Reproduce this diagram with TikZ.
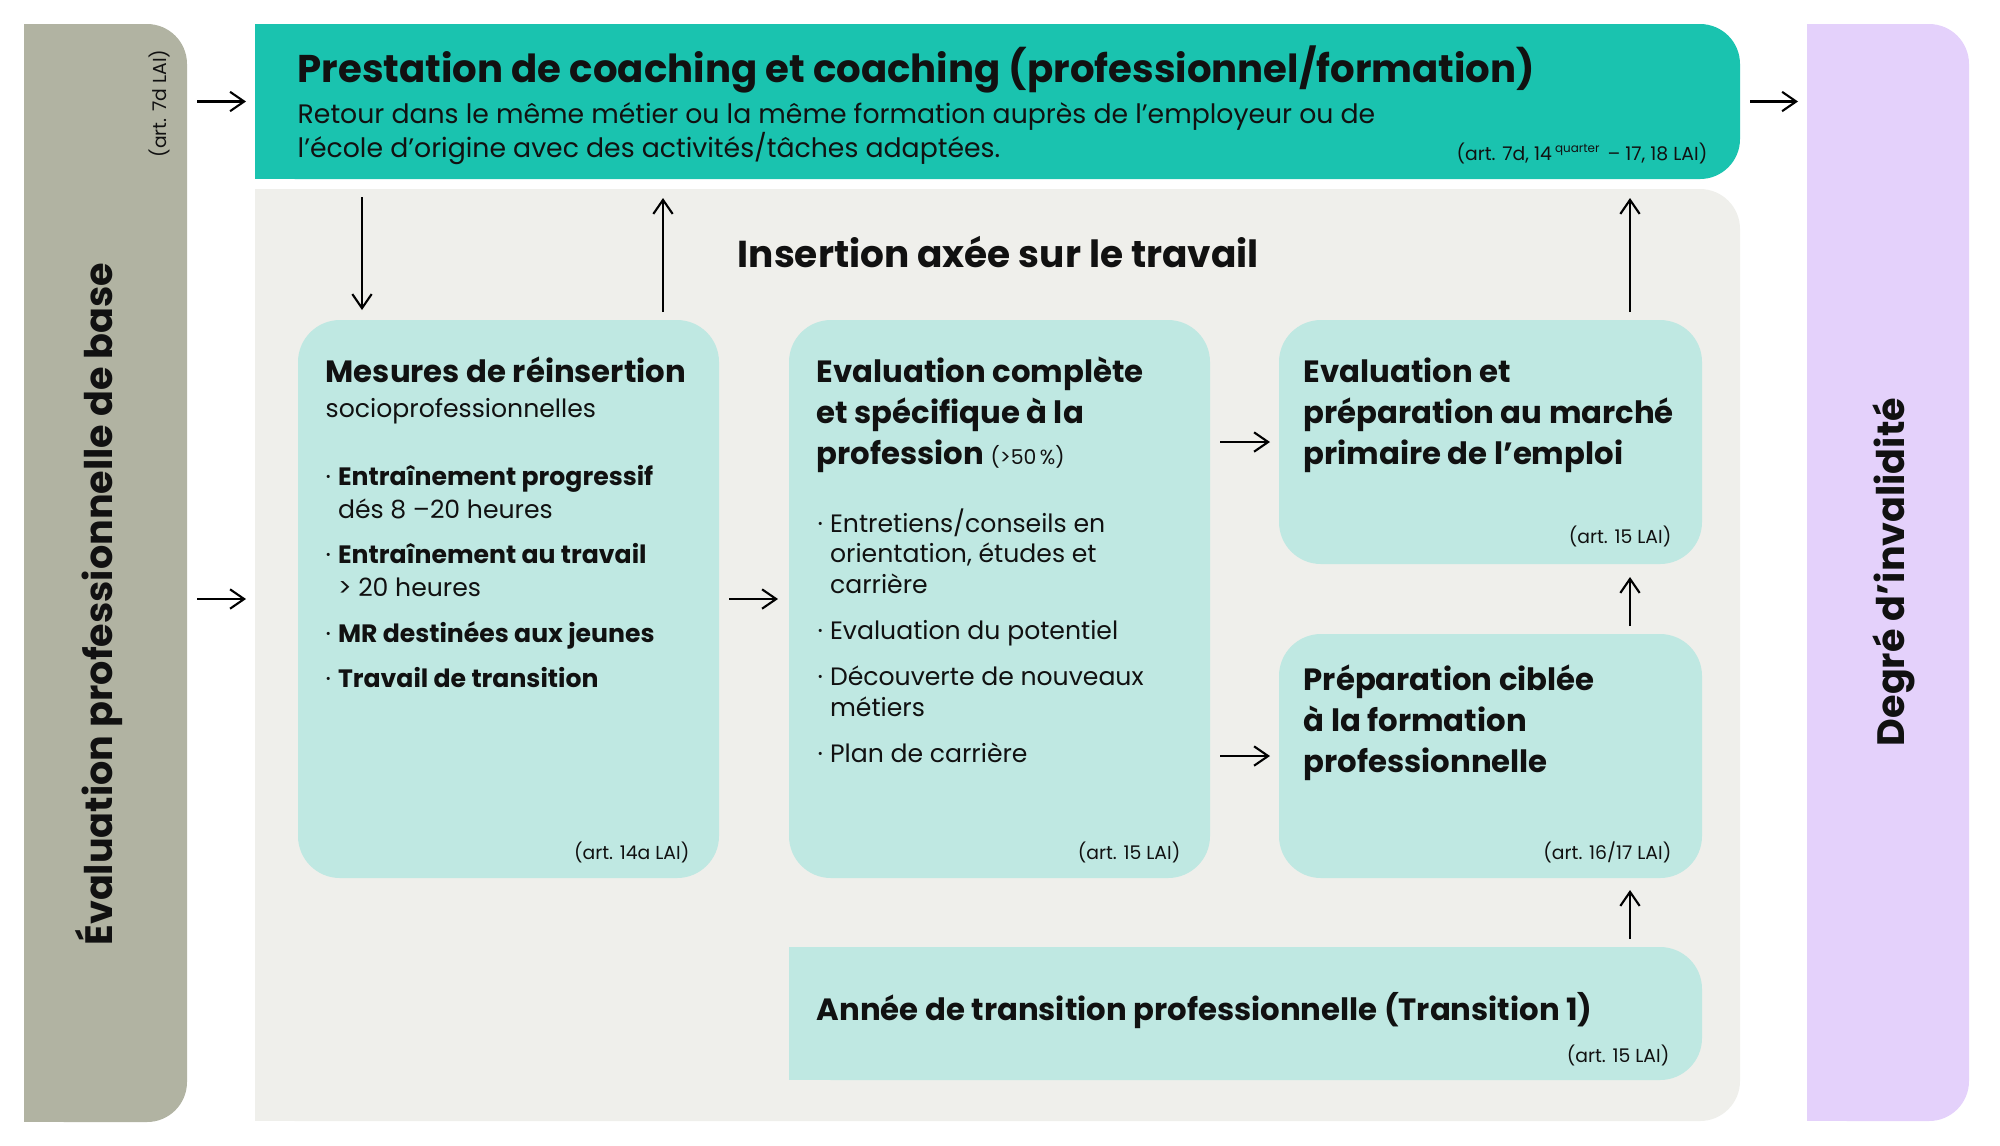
\documentclass[tikz,border=0pt]{standalone}
\usepackage{fontspec}
\setmainfont{Poppins}
\usepackage{xcolor}
\usetikzlibrary{arrows.meta, positioning, calc}

\definecolor{barGrey}{HTML}{B1B3A2}
\definecolor{coachTeal}{HTML}{1AC3AF}
\definecolor{bgGrey}{HTML}{EFEFEB}
\definecolor{boxTeal}{HTML}{BFE8E2}
\definecolor{barLilac}{HTML}{E4D1FB}
\definecolor{inkBlack}{HTML}{111111}

\newcommand{\fsz}[2]{\fontsize{#1}{#2}\selectfont}
\newcommand{\stacklines}[1]{\begin{tabular}[t]{@{}l@{}}#1\end{tabular}}
\newcommand{\bulletlines}[1]{\begin{tabular}[t]{@{}l@{\hspace{2pt}}l@{}}#1\end{tabular}}

\begin{document}
\begin{tikzpicture}[
  node distance=0.7cm and 0.7cm,
  panel/.style={rectangle, fill=#1, inner sep=0pt, outer sep=0pt, rounded corners=0.4cm},
  box/.style={rectangle, fill=boxTeal, inner sep=0pt, outer sep=0pt, rounded corners=0.42cm,
              minimum width=4.21cm},
  txt/.style={inner sep=0pt, anchor=base west, text=inkBlack},
  boxtitle/.style={txt, font=\fsz{8.75}{11.7}\bfseries},
  art/.style={inner sep=0pt, anchor=base east, text=inkBlack, font=\fsz{5.35}{7}},
  side/.style={inner sep=0pt, rotate=90, text=inkBlack, font=\fsz{10.85}{13}\bfseries},
  arrow/.style={-{Straight Barb[length=4pt, width=5.5pt]}, line width=0.6pt,
                shorten <=0.1cm, shorten >=0.09cm},
]
  \useasboundingbox (0,0) rectangle (20,-11.45);

  % outer columns and panels
  \node[panel=barGrey, minimum width=1.63cm, minimum height=10.98cm, anchor=north west] (lbar) at (0.24,-0.24) {};
  \node[panel=coachTeal, minimum width=14.85cm, minimum height=1.55cm, anchor=north west] (coach) at (2.55,-0.24) {};
  \node[panel=bgGrey, minimum width=14.85cm, minimum height=9.32cm, below=0.1cm of coach] (insert) {};
  \node[panel=barLilac, minimum width=1.62cm, minimum height=10.97cm, anchor=north west] (rbar) at (18.07,-0.24) {};
  \fill[barGrey] (lbar.north west) rectangle (lbar.south);
  \fill[coachTeal] (coach.north west) rectangle (coach.south);
  \fill[bgGrey] (insert.north west) rectangle (insert.south);
  \fill[barLilac] (rbar.north west) rectangle (rbar.south);

  % measure boxes
  \node[box, minimum height=5.58cm, anchor=north west] (reint) at (2.98,-3.20) {};
  \node[box, minimum height=5.58cm, right=of reint] (evalc) {};
  \node[box, minimum width=4.23cm, minimum height=2.44cm, right=0.69cm of evalc.north east, anchor=north west] (evalm) {};
  \node[box, minimum width=4.23cm, minimum height=2.44cm, below=of evalm] (prepf) {};
  \node[box, minimum width=9.13cm, minimum height=1.33cm, below=0.69cm of evalc.south west, anchor=north west] (transit) {};
  \fill[boxTeal] (transit.north west) rectangle (transit.south);

  % side labels
  \node[side] (lbarT) at (0.99,-6.04) {Évaluation professionnelle de base};
  \node[art, anchor=center, rotate=90] (lbarA) at (1.59,-1.035) {(art. 7d LAI)};
  \node[side] (rbarT) at (18.94,-5.72) {Degré d’invalidité};

  % coaching panel
  \node[txt, font=\fsz{11}{13}\bfseries] (coachT) at ($(coach.north west)+(0.42,-0.58)$)
    {Prestation de coaching et coaching (professionnel/formation)};
  \node[txt, font=\fsz{7.6}{8.5}] (coachS) at ($(coach.north west)+(0.42,-0.99)$)
    {\stacklines{Retour dans le même métier ou la même formation auprès de l’employeur ou de\\
     l’école d’origine avec des activités/tâches adaptées.}};
  \node[art] (coachA) at ($(coach.south east)+(-0.32,0.19)$)
    {(art. 7d, 14\,\raisebox{2.1pt}{\fsz{3.4}{4}quarter}\, – 17, 18 LAI)};

  \node[txt, font=\fsz{10.66}{13}\bfseries] (insertT) at ($(insert.north west)+(4.82,-0.78)$)
    {Insertion axée sur le travail};

  % box texts
  \node[txt, font=\fsz{7.15}{10}] (reintT) at ($(reint.north west)+(0.27,-0.62)$)
    {\stacklines{\fsz{8.75}{11.7}\bfseries Mesures de réinsertion\\
     socioprofessionnelles}};
  \node[txt, font=\fsz{7.15}{9.4}] (reintL) at ($(reint.north west)+(0.27,-1.65)$)
    {\bulletlines{· & \textbf{Entraînement progressif}\\
     & dés 8 –20 heures\\[3.6pt]
     · & \textbf{Entraînement au travail}\\
     & > 20 heures\\[3.5pt]
     · & \textbf{MR destinées aux jeunes}\\[3.5pt]
     · & \textbf{Travail de transition}}};
  \node[art] (reintA) at ($(reint.south east)+(-0.29,0.19)$) {(art. 14a LAI)};

  \node[boxtitle] (evalcT) at ($(evalc.north west)+(0.27,-0.62)$)
    {\stacklines{Evaluation complète\\ et spécifique à la\\
     profession {\fsz{5.8}{7}\mdseries (>50\,\%)}}};
  \node[txt, font=\fsz{7.15}{8.8}] (evalcL) at ($(evalc.north west)+(0.28,-2.12)$)
    {\bulletlines{· & Entretiens/conseils en\\ & orientation, études et\\ & carrière\\[4.3pt]
     · & Evaluation du potentiel\\[4.3pt]
     · & Découverte de nouveaux\\ & métiers\\[4.3pt]
     · & Plan de carrière}};
  \node[art] (evalcA) at ($(evalc.south east)+(-0.29,0.19)$) {(art. 15 LAI)};

  \node[boxtitle] (evalmT) at ($(evalm.north west)+(0.24,-0.62)$)
    {\stacklines{Evaluation et\\ préparation au marché\\ primaire de l’emploi}};
  \node[art] (evalmA) at ($(evalm.south east)+(-0.30,0.21)$) {(art. 15 LAI)};

  \node[boxtitle] (prepfT) at ($(prepf.north west)+(0.24,-0.56)$)
    {\stacklines{Préparation ciblée\\ à la formation\\ professionnelle}};
  \node[art] (prepfA) at ($(prepf.south east)+(-0.30,0.19)$) {(art. 16/17 LAI)};

  \node[boxtitle] (transitT) at ($(transit.north west)+(0.27,-0.73)$)
    {Année de transition professionnelle (Transition 1)};
  \node[art] (transitA) at ($(transit.south east)+(-0.32,0.18)$) {(art. 15 LAI)};

  % connectors
  \coordinate (dn)  at ([xshift=0.64cm]reint.north west);
  \coordinate (up)  at ([xshift=3.65cm]reint.north west);
  \coordinate (rup) at ([xshift=-0.72cm]evalm.north east);

  \draw[arrow] (lbar.east |- coach.west) -- (coach.west);
  \draw[arrow] (coach.east) -- (rbar.west |- coach.east);
  \draw[arrow] (lbar.east |- reint.west) -- (insert.west |- reint.west);
  \draw[arrow, shorten <=0.18cm, shorten >=0.1cm] (dn |- coach.south) -- (dn);
  \draw[arrow, shorten <=0.08cm, shorten >=0.19cm] (up) -- (up |- coach.south);
  \draw[arrow, shorten >=0.11cm] (reint.east) -- (evalc.west);
  \draw[arrow] (evalc.east |- evalm.west) -- (evalm.west);
  \draw[arrow] (evalc.east |- prepf.west) -- (prepf.west);
  \draw[arrow, shorten <=0.08cm, shorten >=0.13cm] (rup |- prepf.north) -- (rup |- evalm.south);
  \draw[arrow, shorten <=0.08cm, shorten >=0.12cm] (rup |- transit.north) -- (rup |- prepf.south);
  \draw[arrow, shorten <=0.08cm, shorten >=0.19cm] (rup) -- (rup |- coach.south);
\end{tikzpicture}
\end{document}
